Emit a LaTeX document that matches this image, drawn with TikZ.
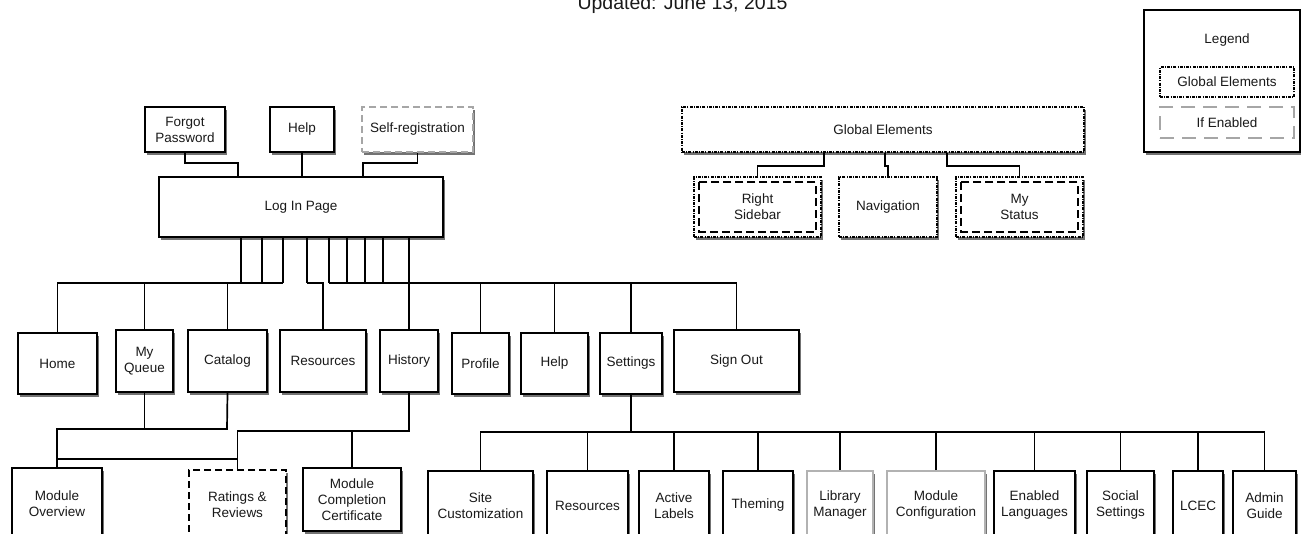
\documentclass[tikz,border=0pt]{standalone}
\usepackage{fontspec}
\setmainfont{Liberation Sans}
\usetikzlibrary{shadows,calc}
\begin{document}
\begin{tikzpicture}[x=1pt,y=-1pt,
  lbl/.style={font=\fontsize{13.5}{16}\selectfont, text=black!90, align=center},
  shade/.style={drop shadow={shadow xshift=2pt, shadow yshift=-3pt, opacity=0.55, fill=black}},
  box/.style={lbl, draw=black, line width=1.7pt, fill=white, inner sep=0pt, shade},
  greybox/.style={box, draw=black!30},
  optbox/.style={box, draw=black!35, dash pattern=on 7pt off 4pt},
  optdark/.style={box, dash pattern=on 7pt off 4pt},
  globbox/.style={box, line width=1.5pt, dash pattern=on 3pt off 1.2pt on 1pt off 1.2pt},
  innerdash/.style={draw=black, line width=1.7pt, dash pattern=on 8pt off 4pt},
  link/.style={draw=black, line width=1.7pt},
  bus/.style={draw=black, line width=2.6pt}]
\useasboundingbox (0,0) rectangle (1301,533);

% heading
\node[lbl, font=\fontsize{19.5}{21}\selectfont, anchor=base] (title) at (682.5,9.5) {Updated: June 13, 2015};

% legend
\node[box, minimum width=156pt, minimum height=142pt] (legend) at (1222,81) {};
\node[lbl] (legtitle) at (1227,40) {Legend};
\node[lbl, draw=black, line width=1.5pt, dash pattern=on 3pt off 1.2pt on 1pt off 1.2pt, minimum width=134pt, minimum height=30pt, inner sep=0pt] (legglob) at (1227,82) {Global Elements};
\node[lbl, draw=black!35, line width=1.5pt, dash pattern=on 14pt off 8pt, minimum width=134pt, minimum height=31pt, inner sep=0pt] (legopt) at (1227,122.5) {If Enabled};

% log-in area
\node[box, minimum width=80pt, minimum height=45pt] (fp) at (185,129.5) {Forgot\\Password};
\node[box, minimum width=64pt, minimum height=45pt] (help1) at (302,129.5) {Help};
\node[optbox, minimum width=111pt, minimum height=45pt] (selfreg) at (417.5,129.5) {Self-registration};
\node[box, minimum width=284pt, minimum height=60pt] (login) at (301,207) {Log In Page};

\coordinate (jFP) at (238,163);
\coordinate (jSR) at (363,163);
\draw[link] (fp.south) |- (jFP) -- (jFP |- login.north);
\draw[link] (help1.south) -- (help1.south |- login.north);
\draw[link] (selfreg.south) |- (jSR) -- (jSR |- login.north);

% global elements
\node[globbox, minimum width=402pt, minimum height=45pt] (glob) at (883,129.5) {Global Elements};
\node[globbox, minimum width=127pt, minimum height=60pt] (rs) at (757.5,207) {Right\\Sidebar};
\node[globbox, minimum width=98pt, minimum height=60pt] (nav) at (888,207) {Navigation};
\node[globbox, minimum width=127pt, minimum height=60pt] (mystat) at (1019.5,207) {My\\Status};
\draw[innerdash] ([shift={(6,6)}]rs.north west) rectangle ([shift={(-6,-6)}]rs.south east);
\draw[innerdash] ([shift={(6,6)}]mystat.north west) rectangle ([shift={(-6,-6)}]mystat.south east);

\coordinate (g1) at (824,166);
\coordinate (g2) at (885,166);
\coordinate (g3) at (947,166);
\draw[link] (g1 |- glob.south) -- (g1) -| (rs.north);
\draw[link] (g2 |- glob.south) -- (g2) -| (nav.north);
\draw[link] (g3 |- glob.south) -- (g3) -| (mystat.north);

% main menu
\node[box, minimum width=79pt, minimum height=61pt] (home) at (57.5,363.5) {Home};
\node[box, minimum width=57pt, minimum height=62pt] (queue) at (144.5,361) {My\\Queue};
\node[box, minimum width=79pt, minimum height=62pt] (catalog) at (227.5,361) {Catalog};
\node[box, minimum width=86pt, minimum height=62pt] (res1) at (323,361) {Resources};
\node[box, minimum width=58pt, minimum height=62pt] (history) at (409,361) {History};
\node[box, minimum width=57pt, minimum height=61pt] (profile) at (480.5,363.5) {Profile};
\node[box, minimum width=67pt, minimum height=61pt] (help2) at (554.5,363.5) {Help};
\node[box, minimum width=62pt, minimum height=61pt] (settings) at (631,363.5) {Settings};
\node[box, minimum width=125pt, minimum height=62pt] (signout) at (736.5,361) {Sign Out};

% taps below the log-in page
\coordinate (t1) at (241,283);
\coordinate (t2) at (262,283);
\coordinate (t3) at (283,283);
\coordinate (t4) at (307,283);
\coordinate (t5) at (329,283);
\coordinate (t6) at (347,283);
\coordinate (t7) at (365,283);
\coordinate (t8) at (383,283);
\coordinate (t9) at (409,283);
\foreach \t in {t1,t2,t3,t4,t5,t6,t7,t8,t9}
  \draw[link] (\t |- login.south) -- (\t);
\draw[link] (home.north) |- (t3);
\draw[link] (queue.north) -- (queue.north |- t3);
\draw[link] (catalog.north) -- (catalog.north |- t3);
\draw[link] (t4) -| (res1.north);
\draw[link] (t5) -| (signout.north);
\draw[link] (t9) -- (history.north);
\draw[link] (profile.north) -- (profile.north |- t5);
\draw[link] (help2.north) -- (help2.north |- t5);
\draw[link] (settings.north) -- (settings.north |- t5);

% module pages
\node[box, minimum width=90pt, minimum height=72pt] (modov) at (57,504) {Module\\Overview};
\node[optdark, minimum width=97pt, minimum height=70pt] (ratings) at (237.5,505) {Ratings \&\\Reviews};
\node[box, minimum width=98pt, minimum height=63pt] (mcc) at (352,499.5) {Module\\Completion\\Certificate};

\coordinate (qL) at (57,429);
\coordinate (qR) at (227,429);
\coordinate (rL) at (57,459);
\coordinate (hy) at (0,431);
\draw[link] (queue.south) -- (queue.south |- qL);
\draw[link] (catalog.south) -- (qR) -- (qL) -- (modov.north);
\draw[link] (rL) -- (rL -| ratings.north);
\draw[link] (history.south) |- (ratings.north |- hy) -- (ratings.north);
\draw[link] (mcc.north) -- (mcc.north |- hy);

% settings pages
\node[box, minimum width=105pt, minimum height=69pt] (sitec) at (480.5,505.5) {Site\\Customization};
\node[box, minimum width=81pt, minimum height=69pt] (res2) at (587.5,505.5) {Resources};
\node[box, minimum width=70pt, minimum height=69pt] (actl) at (674,505.5) {Active\\Labels};
\node[box, minimum width=70pt, minimum height=69pt] (theming) at (758,505.5) {Theming};
\node[greybox, minimum width=66pt, minimum height=69pt] (libm) at (840,505.5) {Library\\Manager};
\node[greybox, minimum width=98pt, minimum height=69pt] (modconf) at (936,505.5) {Module\\Configuration};
\node[box, minimum width=81pt, minimum height=69pt] (enl) at (1034.5,505.5) {Enabled\\Languages};
\node[box, minimum width=67pt, minimum height=69pt] (socs) at (1120.5,505.5) {Social\\Settings};
\node[box, minimum width=50pt, minimum height=69pt] (lcec) at (1198,505.5) {LCEC};
\node[box, minimum width=63pt, minimum height=69pt] (admin) at (1264.5,505.5) {Admin\\Guide};

\coordinate (sy) at (0,432);
\draw[link] (settings.south) -- (settings.south |- sy);
\draw[link] (sitec.north) |- (admin.north |- sy) -- (admin.north);
\draw[bus] (settings.south |- sy) -- (lcec.north |- sy);
\foreach \n in {res2,actl,theming,libm,modconf,enl,socs,lcec}
  \draw[link] (\n.north) -- (\n.north |- sy);
\end{tikzpicture}
\end{document}
